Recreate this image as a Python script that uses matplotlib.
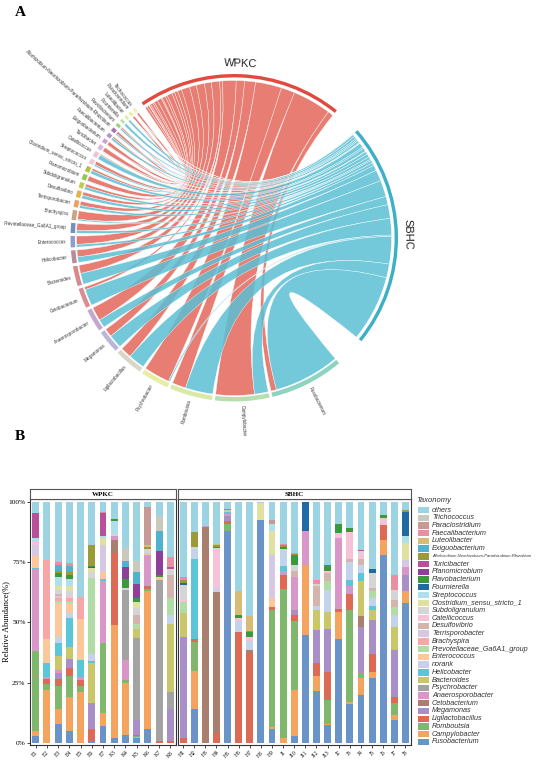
import numpy as np
import matplotlib.pyplot as plt
from matplotlib.path import Path
from matplotlib.patches import PathPatch, Wedge, Rectangle

plt.rcParams['font.family'] = 'Liberation Sans'

# ---------------- A: chord diagram data (flow width per group) ----------------
genera = ['Fusobacterium', 'Campylobacter', 'Romboutsia', 'Psychrobacter', 'Ligilactobacillus',
          'Megamonas', 'Anaerosporobacter', 'Cetobacterium', 'Bacteroides', 'Helicobacter',
          'Enterococcus', 'Prevotellaceae_Ga6A1_group', 'Brachyspira', 'Terrisporobacter',
          'Desulfovibrio', 'Subdoligranulum', 'Planomicrobium', 'Clostridium_sensu_stricto_1',
          'Streptococcus', 'Catellicoccus', 'Turicibacter', 'Exiguobacterium', 'Faecalibacterium',
          'Allorhizobium-Neorhizobium-Pararhizobium-Rhizobium', 'Flavobacterium', 'Fournierella',
          'Luteolibacter', 'Paraclostridium', 'Trichococcus']
wpkc_flow = [2, 14, 5, 9.5, 4, 3, 5, 1, 3, 2.5, 3, 2.5, 3, 1.5, 1.2, 1, 1.8, 0.8, 1.2, 0.4,
             1.6, 1.3, 0.6, 0.9, 0.5, 0.1, 0.1, 0.8, 0.8]
sbhc_flow = [24, 5, 10, 0.5, 6, 5, 3, 6, 4, 2, 1, 1, 0.5, 1, 1.2, 1, 0.2, 1.2, 0.6, 1.6,
             0.2, 0.2, 0.8, 0.5, 0.6, 0.9, 0.8, 0.1, 0.1]
genus_colors = ['#8fd4c1', '#b5dfb0', '#d9eaa6', '#e8eda4', '#d8d6c4', '#bcb4d9', '#c3a7cf',
                '#d98c92', '#d88a8a', '#b98c9b', '#8d9fc9', '#6f90c0', '#c7a684', '#e9a25e',
                '#e3b24d', '#c2c94d', '#95c651', '#b7bf3f', '#f1c9d9', '#ebc3da', '#dab9da',
                '#caa2d2', '#b992c9', '#a474ba', '#9ed07a', '#bfe3a0', '#dceea6', '#eaeb9a',
                '#f2f0a6']

# ---------------- B: relative abundance per sample (%) ----------------
taxa = ['others', 'Trichococcus', 'Paraclostridium', 'Faecalibacterium', 'Luteolibacter',
        'Exiguobacterium', 'Allorhizobium-Neorhizobium-Pararhizobium-Rhizobium', 'Turicibacter',
        'Planomicrobium', 'Flavobacterium', 'Fournierella', 'Streptococcus',
        'Clostridium_sensu_stricto_1', 'Subdoligranulum', 'Catellicoccus', 'Desulfovibrio',
        'Terrisporobacter', 'Brachyspira', 'Prevotellaceae_Ga6A1_group', 'Enterococcus', 'norank',
        'Helicobacter', 'Bacteroides', 'Psychrobacter', 'Anaerosporobacter', 'Cetobacterium',
        'Megamonas', 'Ligilactobacillus', 'Romboutsia', 'Campylobacter', 'Fusobacterium']
taxa_keys = ['others', 'Tricho', 'Paraclos', 'Faecali', 'Luteo', 'Exiguo', 'Allorhiz', 'Turici',
             'Planomi', 'Flavo', 'Fournier', 'Strepto', 'Clostri', 'Subdoli', 'Catelli', 'Desulfo',
             'Terris', 'Brachy', 'Prevot', 'Entero', 'norank', 'Helico', 'Bactero', 'Psychro',
             'Anaero', 'Ceto', 'Mega', 'Ligi', 'Rombo', 'Campy', 'Fuso']
taxa_colors = ['#9dd4e3', '#c9c9bd', '#c79a96', '#ea8ea2', '#d8bb74', '#4fb3cf', '#9a9a36',
               '#b8519a', '#8d3f9a', '#3a9a3a', '#1f6aa5', '#aee0ea', '#e0e0a0', '#d5d5d5',
               '#f5c2d8', '#d4b5ae', '#d4c8e3', '#f7a8a6', '#b0dda6', '#fcc79b', '#c3d3ea',
               '#5bc6d8', '#c9c76a', '#a3a3a3', '#d897c8', '#a9806f', '#a98fc8', '#dc6a55',
               '#7fb86c', '#f5a460', '#6a93c8']

E1 = dict(Fuso=3, Campy=2, Rombo=33, Anaero=34, Helico=0.5, Entero=5, Terris=4.5, Catelli=1.5,
          Strepto=1.5, Turici=10.5, others=4.5)
E2 = dict(Campy=22, Rombo=2.5, Ligi=2, Anaero=1, Helico=5.5, Entero=10, Brachy=33, others=24)
E3 = dict(Fuso=8, Campy=6, Rombo=9.5, Ligi=3, Mega=2.5, Anaero=1.5, Bactero=5.5, Helico=5.5,
          norank=2.5, Entero=14, Prevot=1, Brachy=1, Terris=1, Desulfo=1, Subdoli=1.5, Clostri=1.5,
          Strepto=4, Flavo=1.5, Allorhiz=1, Exiguo=2.5, Faecali=1, others=25)
E4 = dict(Fuso=5, Campy=14, Rombo=9, Ligi=3, Mega=4, Bactero=5, Helico=12, norank=2, Entero=4,
          Prevot=1, Brachy=1, Catelli=1, Subdoli=2, Clostri=2, Strepto=3, Flavo=1.5, Allorhiz=1.5,
          Exiguo=2.5, Faecali=1, others=25.5)
E5 = dict(Campy=21, Rombo=2.5, Ligi=2.5, Anaero=1.5, Helico=7, Entero=17, Brachy=9, others=39.5)
E6 = dict(Fuso=0.7, Ligi=5.3, Mega=10.5, Bactero=16.5, Helico=1, norank=3, Prevot=31.5,
          Subdoli=2.5, Clostri=1.5, Fournier=0.5, Flavo=0.5, Allorhiz=8.5, others=18)
E7 = dict(Fuso=7, Campy=5.5, Rombo=29, Anaero=25.5, Helico=1, Entero=3, Terris=11, Clostri=3,
          Strepto=1, Turici=9.5, Paraclos=0.5, others=4)
K3 = dict(Fuso=2, Campy=47, Ligi=30, Ceto=5, Anaero=2, Subdoli=0.5, Strepto=5.5, Flavo=1, others=7)
K4 = dict(Fuso=3.5, Campy=21.5, Rombo=1, Anaero=8.5, Psychro=29, Subdoli=1, Flavo=3.5, Planomi=5,
          Exiguo=2.5, Tricho=5.5, others=19)
K5 = dict(Fuso=2, Campy=0.5, Rombo=0.5, Ligi=0.5, Mega=6, Psychro=34, Bactero=4, Prevot=2,
          Desulfo=3.5, Subdoli=3, Clostri=2.5, Flavo=1.5, Planomi=6, Exiguo=5, Tricho=4.5,
          others=24.5)
K6 = dict(Fuso=6, Campy=57, Rombo=1, Ligi=1, Anaero=13, Entero=0.5, Prevot=0.5, Subdoli=1.5,
          Allorhiz=1, Luteo=0.5, Paraclos=16, others=2)
K7 = dict(Ligi=0.7, Psychro=66.8, Entero=1.5, Flavo=0.5, Planomi=10, Exiguo=8.5, Tricho=6, others=6)
K8 = dict(Ligi=0.7, Mega=13.3, Psychro=7, Bactero=28.5, norank=3.5, Prevot=7, Desulfo=9.5,
          Subdoli=2.5, Turici=1, Faecali=4, others=23)

H1 = dict(Ligi=2, Mega=42, Bactero=10, Prevot=4.5, Catelli=1, Subdoli=6, Fournier=1, Allorhiz=1,
          Faecali=1, Paraclos=0.5, others=31)
H2 = dict(Fuso=14, Campy=16, Rombo=12, Ligi=1, Helico=33.5, norank=4, Subdoli=1, Allorhiz=6,
          others=12.5)
H3 = dict(Ceto=89.5, Anaero=0.5, others=10)
H4 = dict(Ligi=4, Ceto=58.5, norank=1.5, Catelli=16.5, Subdoli=0.5, Flavo=0.5, Allorhiz=0.5,
          Luteo=0.5, others=17.5)
H5 = dict(Fuso=88, Rombo=3, Ligi=1, Mega=2, Anaero=1, Helico=1, Prevot=0.5, Allorhiz=0.5, others=3)
H6 = dict(Ligi=46, norank=4.5, Catelli=1.5, Flavo=1, Luteo=10, others=37)
H7 = dict(Ligi=37.5, Ceto=1, norank=4, Catelli=1.5, Flavo=2, Allorhiz=0.5, Luteo=6, others=47.5)
H8 = dict(Fuso=92.5, Clostri=7, others=0.5)
H9 = dict(Fuso=6, Campy=0.7, Rombo=48.3, Ligi=1.5, Entero=3.5, Terris=18, Clostri=10, Strepto=3,
          Paraclos=1.5, others=7.5)
J1 = dict(Campy=2, Rombo=62, Ligi=5.5, Anaero=2, Helico=2, norank=6.5, Entero=0.5, Flavo=1,
          Allorhiz=0.5, Faecali=0.5, others=17.5)
J10 = dict(Fuso=3, Campy=19, Rombo=28.5, Ligi=2.5, Mega=2, Anaero=14, Desulfo=2.5, Subdoli=2.5,
           Flavo=4, Allorhiz=0.5, Faecali=0.5, others=21)
J11 = dict(Fuso=45, Campy=29, Anaero=14, Fournier=12)
J12 = dict(Fuso=21.5, Campy=6.5, Ligi=5, Mega=14, Bactero=8, norank=2, Desulfo=8, Subdoli=1,
           Faecali=1.5, others=32.5)
J13 = dict(Fuso=7.5, Campy=0.5, Rombo=10, Ligi=11.5, Mega=18, Bactero=7, norank=9, Prevot=3.5,
           Desulfo=3.5, Catelli=1, Flavo=2, Turici=0.5, others=26)
J2 = dict(Fuso=43, Campy=11.5, Ligi=1, Anaero=29.5, Catelli=2, Flavo=4, others=9)
J3 = dict(Fuso=16, Campy=1, Rombo=38, Ligi=7, Anaero=3, Helico=2.5, norank=7.5, Desulfo=1.5,
          Catelli=11, Flavo=1.5, others=11)
J4 = dict(Fuso=20, Campy=7, Rombo=2, Mega=19, Ceto=4.5, Bactero=14.5, Helico=3.5, norank=3.5,
          Desulfo=2.5, Catelli=1.5, Subdoli=1.5, Turici=0.5, others=20)
J5 = dict(Fuso=27, Campy=2.5, Ligi=7.5, Mega=14, Bactero=4, Helico=2, norank=3, Prevot=3,
          Desulfo=1.5, Subdoli=6, Fournier=1.5, others=28)
J6 = dict(Fuso=78, Campy=6, Ligi=6.5, Catelli=3, Flavo=1, others=5.5)
J7 = dict(Fuso=9.5, Campy=2, Rombo=5, Ligi=2.5, Mega=19.5, Bactero=9.5, norank=5, Prevot=3.5,
          Desulfo=3, Subdoli=4, Faecali=6, others=30.5)
J8 = dict(Fuso=58, Campy=5, Mega=6.5, Anaero=3.5, Terris=3, Clostri=7, Strepto=3, Fournier=10,
          Allorhiz=0.5, others=3.5)

wpkc_names = ['E1', 'E2', 'E3', 'E4', 'E5', 'E6', 'E7', 'K3', 'K4', 'K5', 'K6', 'K7', 'K8']
wpkc_samples = [E1, E2, E3, E4, E5, E6, E7, K3, K4, K5, K6, K7, K8]
sbhc_names = ['H1', 'H2', 'H3', 'H4', 'H5', 'H6', 'H7', 'H8', 'H9', 'J1', 'J10', 'J11', 'J12',
              'J13', 'J2', 'J3', 'J4', 'J5', 'J6', 'J7', 'J8']
sbhc_samples = [H1, H2, H3, H4, H5, H6, H7, H8, H9, J1, J10, J11, J12, J13, J2, J3, J4, J5, J6,
                J7, J8]

W, H = 550, 760
fig = plt.figure(figsize=(W / 100, H / 100), dpi=100)

# ================= panel A =================
axA = fig.add_axes([0, (H - 470) / H, 1, 470 / H])
axA.set_xlim(0, 550)
axA.set_ylim(0, 470)
axA.axis('off')
cx, cy = 234, 232
R0 = 157.5

# angular layout (clockwise, degrees)
gap_g, gap_last, gap_ws, gap_sf = 1.05, 3.0, 10.0, 11.0
Wsum, Ssum = sum(wpkc_flow), sum(sbhc_flow)
scale = (360 - (len(genera) - 1) * gap_g - gap_last - gap_ws - gap_sf) / (2 * (Wsum + Ssum))

theta = -50.0
genus_span = []
for i in range(len(genera)):
    span = (wpkc_flow[i] + sbhc_flow[i]) * scale
    genus_span.append((theta, theta - span))
    theta -= span + (gap_g if i < len(genera) - 1 else gap_last)
wpkc_span = (theta, theta - Wsum * scale)
theta -= Wsum * scale + gap_ws
sbhc_span = (theta, theta - Ssum * scale)


def pt(r, a):
    t = np.deg2rad(a)
    return (cx + r * np.cos(t), cy + r * np.sin(t))


def ribbon(a1, a2, b1, b2, color):
    pa = [pt(R0, a) for a in np.linspace(a1, a2, 25)]
    pb = [pt(R0, b) for b in np.linspace(b1, b2, 25)]
    verts = pa + [(cx, cy), pb[0]] + pb[1:] + [(cx, cy), pa[0]]
    codes = ([Path.MOVETO] + [Path.LINETO] * (len(pa) - 1) + [Path.CURVE3, Path.CURVE3]
             + [Path.LINETO] * (len(pb) - 1) + [Path.CURVE3, Path.CURVE3])
    axA.add_patch(PathPatch(Path(verts, codes), facecolor=color, edgecolor='white',
                            linewidth=0.3, alpha=0.85, zorder=2))


# slots on group arcs: genera in reverse order going clockwise
links = []
for gi, (flow, span, col) in enumerate([(wpkc_flow, wpkc_span, '#E4685A'),
                                         (sbhc_flow, sbhc_span, '#5BBFD4')]):
    pos = span[0]
    for i in range(len(genera) - 1, -1, -1):
        w = flow[i] * scale
        links.append((gi, i, pos, pos - w, col))
        pos -= w

# slots on genus arcs: SBHC part first, then WPKC
genus_pos = {}
for i, (g0, g1) in enumerate(genus_span):
    s_w = sbhc_flow[i] * scale
    genus_pos[(1, i)] = (g0, g0 - s_w)
    genus_pos[(0, i)] = (g0 - s_w, g1)

for gi, i, a1, a2, col in links:
    b1, b2 = genus_pos[(gi, i)]
    ribbon(a1, a2, b1, b2, col)

# tracks
for (g0, g1), c in zip(genus_span, genus_colors):
    axA.add_patch(Wedge((cx, cy), 163.5, g1, g0, width=4.5, facecolor=c, edgecolor='none', zorder=3))
for span, c in [(wpkc_span, '#E04A3F'), (sbhc_span, '#3DB0C8')]:
    axA.add_patch(Wedge((cx, cy), 164, span[1], span[0], width=3.4, facecolor=c, edgecolor='none',
                        zorder=3))

# labels
for name, (g0, g1) in zip(genera, genus_span):
    mid = (g0 + g1) / 2
    x, y = pt(167.5, mid)
    if np.cos(np.deg2rad(mid)) >= 0:
        rot, ha = mid, 'left'
    else:
        rot, ha = mid - 180, 'right'
    axA.text(x, y, name, fontsize=3.3, rotation=rot, ha=ha, va='center',
             rotation_mode='anchor', color='#333333')

for name, span in [('WPKC', wpkc_span), ('SBHC', sbhc_span)]:
    mid = (span[0] + span[1]) / 2
    x, y = pt(174, mid)
    axA.text(x, y, name, fontsize=8, rotation=mid - 90, ha='center', va='center',
             rotation_mode='anchor', color='#222222')

# ================= panel B =================
top, bot = 499, 745


def draw_panel(x0, x1, names, samples, title, show_y):
    ax = fig.add_axes([x0 / W, (H - bot) / H, (x1 - x0) / W, (bot - top) / H])
    xs = np.arange(len(samples))
    bottom = np.zeros(len(samples))
    for key, col in zip(taxa_keys[::-1], taxa_colors[::-1]):
        h = np.array([s.get(key, 0) for s in samples]) / 100
        ax.bar(xs, h, bottom=bottom, width=0.62, color=col, linewidth=0)
        bottom += h
    ax.set_xlim(-0.5, len(samples) - 0.5)
    ax.set_ylim(-0.008, 1.012)
    ax.set_xticks(xs)
    ax.set_xticklabels(names, rotation=45, ha='right', rotation_mode='anchor',
                       fontsize=4, family='Liberation Serif')
    ax.tick_params(axis='x', length=2, width=0.5, pad=1.5)
    if show_y:
        ax.set_yticks([0, 0.25, 0.5, 0.75, 1.0])
        ax.set_yticklabels(['0%', '25%', '50%', '75%', '100%'], fontsize=5.3,
                           family='Liberation Serif')
        ax.tick_params(axis='y', length=2, width=0.5, pad=1.2)
        ax.set_ylabel('Relative Abundance(%)', fontsize=6, family='Liberation Serif')
        ax.yaxis.set_label_coords(-0.135, 0.5)
    else:
        ax.set_yticks([])
    for sp in ax.spines.values():
        sp.set_linewidth(0.8)
        sp.set_color('#333333')
    # facet strip
    st = fig.add_axes([x0 / W, (H - top) / H, (x1 - x0) / W, 10.5 / H])
    st.set_xticks([])
    st.set_yticks([])
    for sp in st.spines.values():
        sp.set_linewidth(0.8)
        sp.set_color('#555555')
    st.text(0.5, 0.45, title, fontsize=5, fontweight='bold', family='Liberation Serif',
            ha='center', va='center', transform=st.transAxes)
    return ax


draw_panel(30, 176, wpkc_names, wpkc_samples, 'WPKC', True)
draw_panel(177.5, 411, sbhc_names, sbhc_samples, 'SBHC', False)

# overlay for panel letters and legend (pixel coords, top origin)
ov = fig.add_axes([0, 0, 1, 1], facecolor='none')
ov.set_xlim(0, W)
ov.set_ylim(H, 0)
ov.axis('off')
ov.text(15, 12, 'A', fontsize=11, fontweight='bold', family='Liberation Serif', va='center')
ov.text(15, 437, 'B', fontsize=11, fontweight='bold', family='Liberation Serif', va='center')

ov.text(416, 501, 'Taxonomy', fontsize=5.5, style='italic', va='center', color='#333333')
for i, (name, col) in enumerate(zip(taxa, taxa_colors)):
    y = 510 + i * 7.73
    ov.add_patch(Rectangle((417.5, y - 3.2), 11, 6.4, facecolor=col, edgecolor='none'))
    fs = 3.0 if name.startswith('Allorhizobium') else 5.2
    ov.text(432, y, name, fontsize=fs, style='italic', va='center', color='#333333')

fig.savefig('out.png', dpi=100)
